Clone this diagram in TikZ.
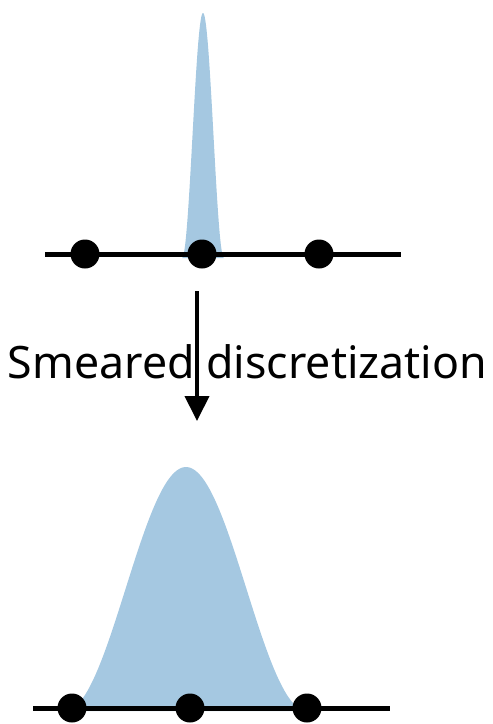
\documentclass[tikz,border=0pt]{standalone}
\usepackage{fontspec}
\setmainfont{Noto Sans}
\usetikzlibrary{arrows.meta}
\definecolor{bump}{HTML}{A5C8E1}
\begin{document}
\begin{tikzpicture}[x=1pt,y=-1pt,
  dot/.style={circle,fill=black,inner sep=0pt,minimum size=29pt},
  axis/.style={line width=5pt},
  conn/.style={line width=4pt,-{Triangle[length=25pt,width=24pt]}}]
\useasboundingbox (0,0) rectangle (493,724);
% top
\fill[bump] plot[domain=-21:21,samples=80] ({203+\x},{258-122.5*(1+cos(\x/21*180))}) -- cycle;
\coordinate (tl) at (45,254);
\coordinate (tr) at (401,254);
\draw[axis] (tl) -- (tr);
\node[dot] (t1) at (85,254) {};
\node[dot] (t2) at (202,254) {};
\node[dot] (t3) at (319,254) {};
% arrow
\coordinate (as) at (197,291);
\coordinate (ae) at (197,421);
\draw[conn] (as) -- (ae);
\node (lbl) at (247.5,362) {\resizebox{479pt}{!}{Smeared discretization}};
% bottom
\fill[bump] plot[domain=-121:121,samples=120] ({186+\x},{711-122*(1+cos(\x/121*180))}) -- cycle;
\coordinate (bl) at (33,708);
\coordinate (br) at (390,708);
\draw[axis] (bl) -- (br);
\node[dot] (b1) at (72,708) {};
\node[dot] (b2) at (190,708) {};
\node[dot] (b3) at (307,708) {};
\end{tikzpicture}
\end{document}
